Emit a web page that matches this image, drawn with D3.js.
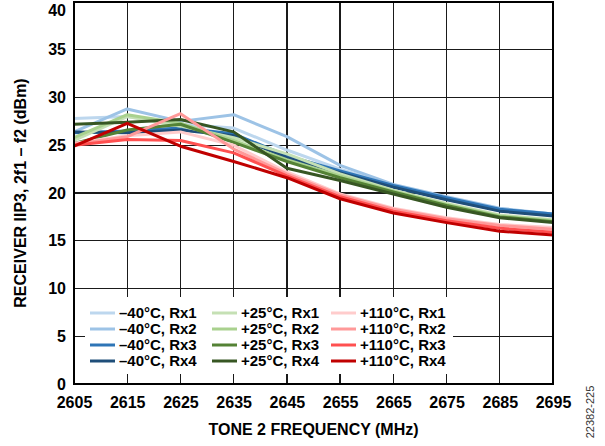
<!DOCTYPE html>
<html lang="en">

<head>
	<meta charset="utf-8">
	<title>Receiver IIP3 vs tone 2 frequency</title>
	<script type="text/javascript" src="https://cdn.jsdelivr.net/npm/d3@7"></script>
	<style type="text/css">
		body {
			margin: 0;
			background: #fff;
		}

		svg text {
			font-family: "Liberation Sans", Arial, sans-serif;
			font-weight: bold;
		}

		.axis path {
			display: none;
		}

		.grid line {
			stroke: #1a1a1a;
			stroke-width: 1.3px;
			shape-rendering: crispEdges;
		}

		.axis text {
			font-size: 16px;
			fill: #000;
		}
	</style>
</head>

<body>
	<script type="text/javascript">
		//Width and height
		var w = 605;
		var h = 446;
		var margin = { left: 74, right: 52, top: 2, bottom: 62 };

		// tone 2 frequency (MHz)
		var freqs = [2605, 2615, 2625, 2635, 2645, 2655, 2665, 2675, 2685, 2695];
		var yTicks = [0, 5, 10, 15, 20, 25, 30, 35, 40];

		var labels = [
			"\u201340\u00b0C, Rx1", "\u201340\u00b0C, Rx2", "\u201340\u00b0C, Rx3", "\u201340\u00b0C, Rx4",
			"+25\u00b0C, Rx1", "+25\u00b0C, Rx2", "+25\u00b0C, Rx3", "+25\u00b0C, Rx4",
			"+110\u00b0C, Rx1", "+110\u00b0C, Rx2", "+110\u00b0C, Rx3", "+110\u00b0C, Rx4"
		];
		var colors = [
			"#bdd7ee", "#9dc3e6", "#2e75b6", "#1f4e79",
			"#c5e0b4", "#a9d18e", "#548235", "#375623",
			"#ffcccc", "#ff9999", "#ff5050", "#c00000"
		];

		// IIP3 values (dBm)
		var m40Rx1 = [27.8, 28.0, 27.2, 26.8, 24.5, 22.5, 20.8, 19.5, 18.3, 17.8];
		var m40Rx2 = [26.4, 28.8, 27.5, 28.2, 25.9, 22.9, 20.9, 19.6, 18.4, 17.8];
		var m40Rx3 = [26.3, 26.5, 26.8, 26.2, 23.9, 22.3, 20.8, 19.5, 18.3, 17.8];
		var m40Rx4 = [26.4, 26.3, 26.6, 26.0, 23.7, 22.1, 20.6, 19.3, 18.1, 17.6];
		var p25Rx1 = [25.5, 28.0, 27.0, 25.8, 24.1, 22.0, 20.3, 18.9, 17.7, 17.2];
		var p25Rx2 = [25.8, 28.2, 27.3, 25.5, 23.5, 21.8, 20.2, 18.8, 17.6, 17.1];
		var p25Rx3 = [25.2, 26.6, 27.2, 25.3, 23.3, 21.6, 20.1, 18.7, 17.5, 17.0];
		var p25Rx4 = [27.2, 27.4, 27.7, 26.4, 22.6, 21.3, 19.9, 18.5, 17.4, 16.9];
		var p110Rx1 = [25.2, 26.0, 26.4, 25.0, 22.2, 19.9, 18.4, 17.4, 16.7, 16.4];
		var p110Rx2 = [25.1, 25.9, 28.3, 24.6, 22.0, 19.8, 18.3, 17.3, 16.6, 16.2];
		var p110Rx3 = [25.0, 25.6, 25.5, 24.2, 21.8, 19.6, 18.1, 17.1, 16.3, 15.9];
		var p110Rx4 = [24.9, 27.3, 24.9, 23.3, 21.6, 19.4, 17.9, 16.9, 16.0, 15.6];

		var series = [m40Rx1, m40Rx2, m40Rx3, m40Rx4, p25Rx1, p25Rx2, p25Rx3, p25Rx4,
			p110Rx1, p110Rx2, p110Rx3, p110Rx4];

		var x0 = margin.left, x1 = w - margin.right;
		var y0 = h - margin.bottom, y1 = margin.top;

		//Create scale functions
		var xScale = d3.scaleLinear()
			.domain([2605, 2695])
			.range([x0, x1]);

		var yScale = d3.scaleLinear()
			.domain([0, 40])
			.range([y0, y1]);

		//Create SVG element
		var svg = d3.select("body")
			.append("svg")
			.attr("width", w)
			.attr("height", h);

		// grid lines
		svg.append("g")
			.attr("class", "grid")
			.selectAll("line.v")
			.data(freqs)
			.enter()
			.append("line")
			.attr("x1", function (d) { return xScale(d); })
			.attr("x2", function (d) { return xScale(d); })
			.attr("y1", y1)
			.attr("y2", y0);

		svg.append("g")
			.attr("class", "grid")
			.selectAll("line.h")
			.data(yTicks)
			.enter()
			.append("line")
			.attr("x1", x0)
			.attr("x2", x1)
			.attr("y1", function (d) { return yScale(d); })
			.attr("y2", function (d) { return yScale(d); });

		// data lines
		var line = d3.line()
			.x(function (d, i) { return xScale(freqs[i]); })
			.y(function (d) { return yScale(d); });

		svg.append("g")
			.selectAll("path")
			.data(series)
			.enter()
			.append("path")
			.attr("d", line)
			.attr("fill", "none")
			.attr("stroke", function (d, i) { return colors[i]; })
			.attr("stroke-width", 3)
			.attr("stroke-linejoin", "round");

		// legend with white backing
		var legX = [90, 212, 331];
		var legY = [313, 329, 345, 361];

		svg.append("rect")
			.attr("x", 85)
			.attr("y", 297)
			.attr("width", 368)
			.attr("height", 77)
			.attr("fill", "#fff");

		var leg = svg.append("g")
			.selectAll("g")
			.data(labels)
			.enter()
			.append("g")
			.attr("transform", function (d, i) {
				return "translate(" + legX[Math.floor(i / 4)] + "," + legY[i % 4] + ")";
			});

		leg.append("line")
			.attr("x1", 0)
			.attr("x2", 25)
			.attr("stroke", function (d, i) { return colors[i]; })
			.attr("stroke-width", 3);

		leg.append("text")
			.attr("x", 29)
			.attr("dy", "0.36em")
			.attr("font-size", "15px")
			.text(function (d) { return d; });

		// frame
		svg.append("rect")
			.attr("x", x0)
			.attr("y", y1)
			.attr("width", x1 - x0)
			.attr("height", y0 - y1)
			.attr("fill", "none")
			.attr("stroke", "#000")
			.attr("stroke-width", 2);

		// define axes
		var xAxis = d3.axisBottom()
			.scale(xScale)
			.tickValues(freqs)
			.tickSize(0)
			.tickPadding(13)
			.tickFormat(d3.format("d"));

		var yAxis = d3.axisLeft()
			.scale(yScale)
			.tickValues(yTicks)
			.tickSize(0)
			.tickPadding(8);

		svg.append("g")
			.attr("class", "axis")
			.attr("transform", "translate(0," + y0 + ")")
			.call(xAxis);

		var yg = svg.append("g")
			.attr("class", "axis")
			.attr("transform", "translate(" + x0 + ",0)")
			.call(yAxis);

		// top label would be cut at the page edge, nudge it down
		yg.selectAll(".tick text")
			.filter(function (d) { return d === 40; })
			.attr("dy", "0.85em");

		// axis titles
		svg.append("text")
			.attr("x", (x0 + x1) / 2)
			.attr("y", 435)
			.attr("text-anchor", "middle")
			.attr("font-size", "16px")
			.text("TONE 2 FREQUENCY (MHz)");

		svg.append("text")
			.attr("transform", "translate(26," + (y0 + y1) / 2 + ") rotate(-90)")
			.attr("text-anchor", "middle")
			.attr("font-size", "16px")
			.text("RECEIVER IIP3, 2f1 \u2013 f2 (dBm)");

		svg.append("text")
			.attr("transform", "translate(594,412) rotate(-90)")
			.attr("text-anchor", "middle")
			.attr("font-size", "11px")
			.style("font-weight", "normal")
			.attr("fill", "#333")
			.text("22382-225");
	</script>
</body>

</html>
